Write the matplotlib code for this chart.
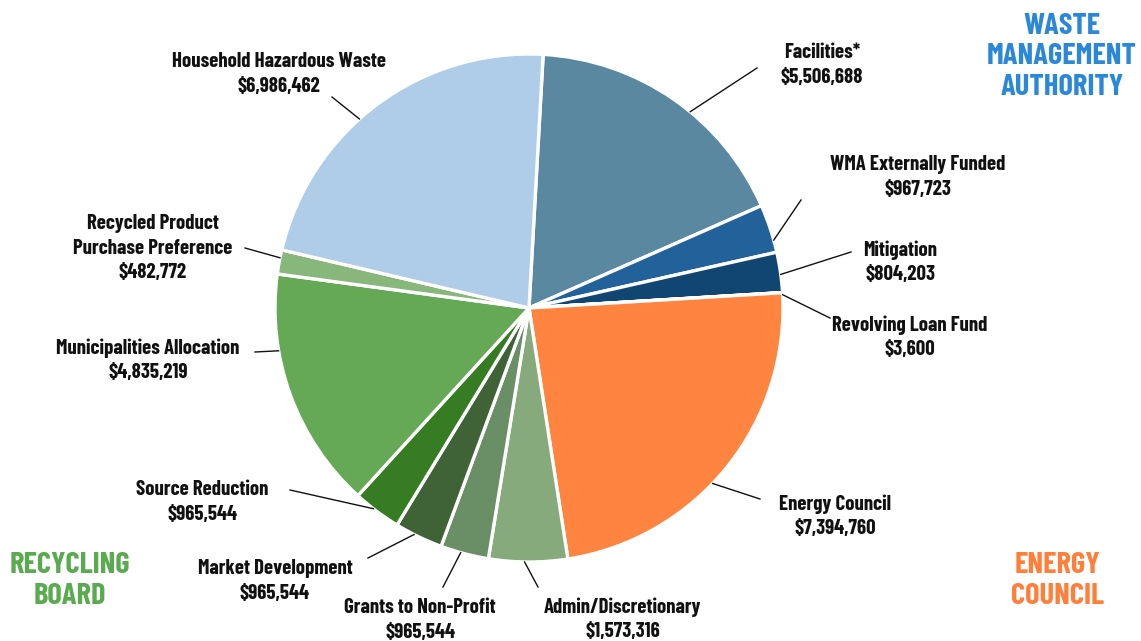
import numpy as np
import matplotlib
matplotlib.use('Agg')
import matplotlib.pyplot as plt
from matplotlib import font_manager

# data (clockwise from top)
categories = ['Facilities*', 'WMA Externally Funded', 'Mitigation', 'Revolving Loan Fund',
              'Energy Council', 'Admin/Discretionary', 'Grants to Non-Profit',
              'Market Development', 'Source Reduction', 'Municipalities Allocation',
              'Recycled Product\nPurchase Preference', 'Household Hazardous Waste']
amounts = [5506688, 967723, 804203, 3600,
           7394760, 1573316, 965544,
           965544, 965544, 4835219,
           482772, 6986462]
colors = ['#5b88a1', '#23619b', '#124672', '#9fc3e0',
          '#ff843f', '#86aa7c', '#6a8e66',
          '#3f6236', '#367c23', '#65a855',
          '#87b77a', '#afcde9']

groups = ['WASTE\nMANAGEMENT\nAUTHORITY', 'RECYCLING\nBOARD', 'ENERGY\nCOUNCIL']
group_colors = ['#2b88d8', '#5aaa50', '#ff7f3a']

# pick a condensed family that has a static bold file
wanted = ['Barlow Condensed', 'PT Sans Narrow', 'Roboto Condensed', 'Archivo Narrow',
          'Liberation Sans Narrow', 'Oswald', 'Fjalla One']
static_bold = {}
for f in font_manager.fontManager.ttflist:
    if '[' not in f.fname and f.weight in (600, 700, 'bold', 'semibold'):
        static_bold.setdefault(f.name, f.fname)
fam = next((w for w in wanted if w in static_bold), 'DejaVu Sans')
plt.rcParams['font.family'] = [fam, 'DejaVu Sans']

W, H = 1141, 641
fig = plt.figure(figsize=(W / 100, H / 100), dpi=100)
ax = fig.add_axes([0, 0, 1, 1])

cx, cy, R = 529, H - 308, 254
wedges, _ = ax.pie(amounts, colors=colors, startangle=86.8, counterclock=False,
                   center=(cx, cy), radius=R, frame=True,
                   wedgeprops=dict(edgecolor='white', linewidth=2.4))
ax.set_xlim(0, W)
ax.set_ylim(0, H)
ax.set_aspect('equal')
ax.axis('off')

# label layout: text centre (px from top-left), leader start (px), attach angle on the pie
layout = [
    ((822, 65), (757, 68), 50.6),
    ((918, 177), (801, 200), 15.5),
    ((900, 262), (851, 252), 7.6),
    ((910, 337), (830, 318), 3.0),
    ((835, 516), (760, 499), -43.7),
    ((623, 619), (538, 587), -91.0),
    ((420, 620), (443, 587), -105.6),
    ((275, 581), (368, 558), -116.9),
    ((202, 502), (290, 490), -127.8),
    ((148, 360), (255, 352), -170.3),
    ((153, 248), (245, 248), -191.4),
    ((279, 74), (332, 97), 131.9),
]

for cat, amt, (tpos, lstart, ang) in zip(categories, amounts, layout):
    a = np.deg2rad(ang)
    ex, ey = cx + R * np.cos(a), cy + R * np.sin(a)
    ax.plot([lstart[0], ex], [H - lstart[1], ey], color='#111111', lw=1.0, zorder=5)
    ax.text(tpos[0], H - tpos[1], f'{cat}\n${amt:,}', ha='center', va='center',
            fontsize=15, fontweight='bold', color='#111111', linespacing=1.35)

group_pos = [(1062, 57), (70, 581), (1057, 581)]
for g, c, (gx, gy) in zip(groups, group_colors, group_pos):
    ax.text(gx, H - gy, g, ha='center', va='center', fontsize=22,
            fontweight='bold', color=c, linespacing=1.15)

fig.savefig('out.png', dpi=100)
